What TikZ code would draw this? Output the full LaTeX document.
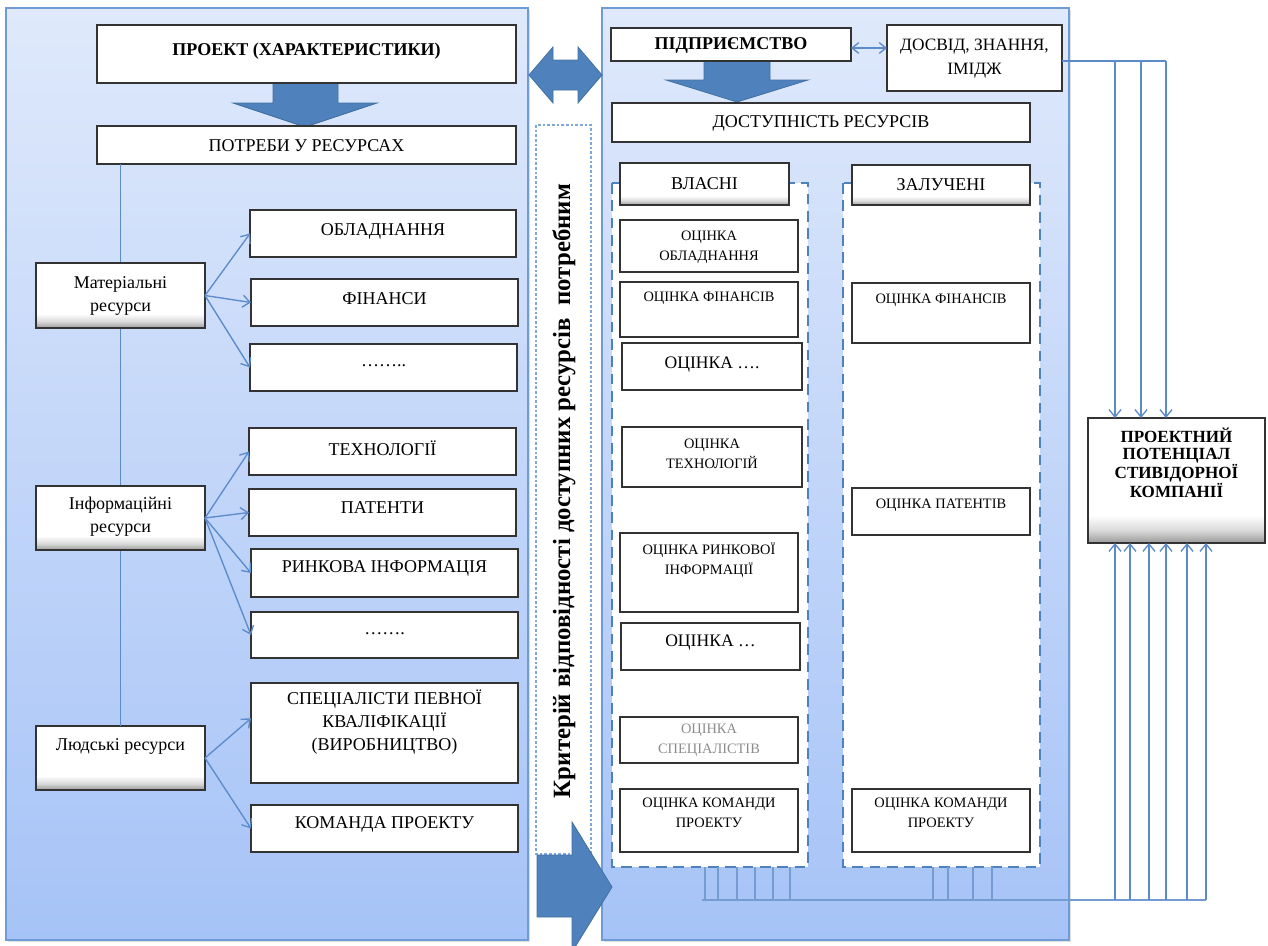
\documentclass[tikz,border=0pt]{standalone}
\usepackage{fontspec}
\setmainfont{Liberation Serif}
\usetikzlibrary{arrows.meta,shadows}
\definecolor{pantop}{HTML}{DFE9FB}
\definecolor{panbot}{HTML}{A6C3F7}
\definecolor{panedge}{HTML}{6F9CD6}
\definecolor{arrfill}{HTML}{4F81BD}
\definecolor{arredge}{HTML}{41709F}
\definecolor{conn}{HTML}{5B8BC9}
\definecolor{dashc}{HTML}{4F81BD}
\definecolor{dotc}{HTML}{7FA7D9}
\pgfdeclareverticalshading{softbottom}{100bp}{color(0bp)=(black!40); color(25bp)=(black!40); color(30bp)=(black!15); color(36bp)=(white); color(100bp)=(white)}
\newcommand\bx[9][]{%
  \pgfmathsetmacro\bxw{(#5-#3)*0.75}%
  \pgfmathsetmacro\bxh{(#6-#4)*0.75}%
  \node[box,minimum width=\bxw pt,minimum height=\bxh pt,#1] (#2) at ({(#3+#5)/2},{(#4+#6)/2}) {};%
  \node[txt,#8] (#2-t) at ({(#3+#5)/2},#7) {#9};%
}
\tikzset{
  panel/.style={draw=panedge,line width=1.3pt,top color=pantop,bottom color=panbot,
    drop shadow={shadow xshift=1.2pt,shadow yshift=-1.2pt,opacity=0.25}},
  box/.style={draw=black!80,line width=1.1pt,fill=white,inner sep=0pt,outer sep=0pt,
    drop shadow={shadow xshift=0.9pt,shadow yshift=-0.9pt,opacity=0.3}},
  sbox/.style={shading=softbottom},
  cont/.style={draw=dashc,line width=2.2pt,dash pattern=on 8pt off 5pt,fill=white},
  txt/.style={align=center,inner sep=0pt},
  fm/.style={font=\fontsize{13.5}{17}\selectfont},
  fb/.style={font=\fontsize{13.5}{17}\selectfont\bfseries},
  fs/.style={font=\fontsize{10.8}{15}\selectfont},
  fl/.style={font=\fontsize{13.2}{17}\selectfont},
  bigarrow/.style={fill=arrfill,draw=arredge,line width=0.6pt},
  line/.style={draw=conn,line width=1.4pt},
  arr/.style={draw=conn,line width=1pt,-{Straight Barb[length=5.5pt,width=9pt]}},
  bus/.style={draw=conn!85,line width=0.9pt}
}
\begin{document}
\begin{tikzpicture}[x=0.75pt,y=-0.75pt]
\useasboundingbox (0,0) rectangle (1268,946);
% panels
\path[panel] (6,8) rectangle (528,940);
\path[panel] (602,8) rectangle (1069,940);
% middle dotted box with rotated text
\draw[draw=dotc,line width=0.8pt,dash pattern=on 2pt off 1.5pt,fill=white] (536,125) rectangle (591,854);
\node[txt,rotate=90,font=\fontsize{18.6}{20}\selectfont\bfseries] (crit) at (564,491) {Критерій відповідності доступних ресурсів\ \ потребним};
% big arrows
\path[bigarrow] (529,75) -- (553,47) -- (553,60) -- (578,60) -- (578,47) -- (602,75) -- (578,103) -- (578,90) -- (553,90) -- (553,103) -- cycle;
\path[bigarrow] (273,82) -- (338,82) -- (338,103) -- (377,103) -- (305,127) -- (233,103) -- (273,103) -- cycle;
\path[bigarrow] (704,61) -- (770,61) -- (770,80) -- (808,80) -- (737,102) -- (666,80) -- (704,80) -- cycle;
\path[bigarrow] (537,855) -- (572,855) -- (572,822) -- (612,887) -- (572,952) -- (572,917) -- (537,917) -- cycle;
% left side
\bx{proj}{97}{25}{516}{83}{51}{fb}{ПРОЕКТ (ХАРАКТЕРИСТИКИ)}
\bx{needs}{97}{126}{516}{164}{146}{fm}{ПОТРЕБИ У РЕСУРСАХ}
\bx[sbox]{hum}{36}{726}{205}{790}{746}{fm}{Людські ресурси}
\draw[line] (hum.north |- needs.south) -- (hum.north);
\bx[sbox]{mat}{36}{263}{205}{328}{296}{fm}{Матеріальні\\ресурси}
\bx[sbox]{inf}{36}{486}{205}{550}{517}{fm}{Інформаційні\\ресурси}
\bx{obl}{250}{210}{516}{257}{231}{fm}{ОБЛАДНАННЯ}
\bx{fin}{251}{279}{518}{326}{299}{fm}{ФІНАНСИ}
\bx{dotsa}{250}{344}{517}{391}{366}{fm}{……..}
\bx{tech}{249}{428}{516}{475}{448}{fm}{ТЕХНОЛОГІЇ}
\bx{pat}{249}{489}{516}{536}{508}{fm}{ПАТЕНТИ}
\bx{mkt}{251}{549}{518}{597}{568}{fm}{РИНКОВА ІНФОРМАЦІЯ}
\bx{dotsb}{251}{612}{518}{658}{634}{fm}{…….}
\bx{spec}{251}{683}{518}{783}{722}{fm}{СПЕЦІАЛІСТИ ПЕВНОЇ\\КВАЛІФІКАЦІЇ\\(ВИРОБНИЦТВО)}
\bx{team}{251}{805}{518}{852}{824}{fm}{КОМАНДА ПРОЕКТУ}
\draw[arr] (mat.east) -- (obl.west);
\draw[arr] (mat.east) -- (fin.west);
\draw[arr] (mat.east) -- (dotsa.west);
\draw[arr] (inf.east) -- (tech.west);
\draw[arr] (inf.east) -- (pat.west);
\draw[arr] (inf.east) -- (mkt.west);
\draw[arr] (inf.east) -- (dotsb.west);
\draw[arr] (hum.east) -- ([yshift=11pt]spec.west);
\draw[arr] (hum.east) -- (team.west);
% right side
\bx{ent}{611}{28}{851}{61}{45}{fb}{ПІДПРИЄМСТВО}
\bx{exp}{887}{25}{1062}{91}{59}{font=\fontsize{13}{18}\selectfont}{ДОСВІД, ЗНАННЯ,\\ІМІДЖ}
\draw[draw=conn,line width=1pt,{Straight Barb[length=5pt,width=8pt]}-{Straight Barb[length=5pt,width=8pt]}] (ent.east |- 0,48) -- (exp.west |- 0,48);
\bx{avail}{612}{103}{1030}{142}{123}{fm}{ДОСТУПНІСТЬ РЕСУРСІВ}
\path[cont] (612,183) rectangle (808,867) node[pos=0.5,inner sep=0pt] (own) {};
\path[cont] (843,183) rectangle (1040,867) node[pos=0.5,inner sep=0pt] (att) {};
\coordinate (ownS) at (710,867);
\coordinate (attS) at (941,867);
\bx[sbox]{ownh}{620}{163}{789}{205}{184}{fm}{ВЛАСНІ}
\bx[sbox]{atth}{852}{165}{1030}{205}{185}{fm}{ЗАЛУЧЕНІ}
\bx{oa}{620}{220}{798}{272}{247}{fs}{ОЦІНКА\\ОБЛАДНАННЯ}
\bx{ob}{620}{282}{798}{337}{298}{fs}{ОЦІНКА ФІНАНСІВ}
\bx{oc}{622}{343}{802}{390}{365}{fl}{ОЦІНКА ….}
\bx{od}{622}{427}{802}{487}{454}{fs}{ОЦІНКА\\ТЕХНОЛОГІЙ}
\bx{oe}{620}{533}{798}{612}{560}{fs}{ОЦІНКА РИНКОВОЇ\\ІНФОРМАЦІЇ}
\bx{of}{621}{623}{800}{670}{643}{fl}{ОЦІНКА …}
\bx{og}{620}{717}{798}{763}{740}{fs,text=black!45}{ОЦІНКА\\СПЕЦІАЛІСТІВ}
\bx{oh}{620}{789}{798}{852}{813}{fs}{ОЦІНКА КОМАНДИ\\ПРОЕКТУ}
\bx{aa}{852}{283}{1030}{343}{300}{fs}{ОЦІНКА ФІНАНСІВ}
\bx{ab}{852}{488}{1030}{535}{505}{fs}{ОЦІНКА ПАТЕНТІВ}
\bx{ac}{852}{789}{1030}{852}{813}{fs}{ОЦІНКА КОМАНДИ\\ПРОЕКТУ}
\bx[sbox]{pot}{1088}{418}{1265}{543}{463}{font=\fontsize{12.8}{12.2}\selectfont\bfseries}{ПРОЕКТНИЙ\\ПОТЕНЦІАЛ\\СТИВІДОРНОЇ\\КОМПАНІЇ}
% top connections to potential
\draw[line,line width=1.1pt] (exp.east |- 0,61) -- (1166,61);
\foreach \x in {1115,1141,1166} \draw[arr] (\x,61) -- (pot.north -| \x,0);
% bottom bus
\coordinate (busL) at (702,900);
\coordinate (busR) at (1206,900);
\draw[bus] (busL) -- (busR);
\foreach \x in {705,718,737,755,773,790} \draw[bus] (ownS -| \x,0) -- (busL -| \x,0);
\foreach \x in {933,948,973,992} \draw[bus] (attS -| \x,0) -- (busL -| \x,0);
\foreach \x in {1115,1130,1149,1166,1187,1206} \draw[arr] (busL -| \x,0) -- (pot.south -| \x,0);
\end{tikzpicture}
\end{document}
